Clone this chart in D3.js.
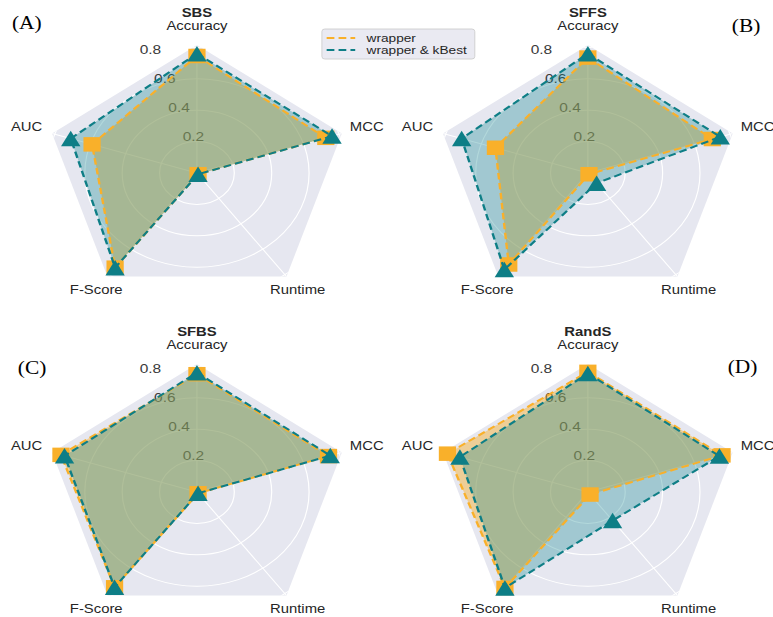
<!DOCTYPE html>
<html>
<head>
<meta charset="utf-8">
<script src="https://cdn.jsdelivr.net/npm/d3@7"></script>
<style>
  html, body { margin: 0; padding: 0; background: #ffffff; }
  svg { display: block; }
</style>
</head>
<body>
<svg id="chart" width="773" height="617"></svg>
<script>
// ---------------- DATA ----------------
const metrics = ["Accuracy", "MCC", "Runtime", "F-Score", "AUC"];
const panelTitles = ["SBS", "SFFS", "SFBS", "RandS"];
const panelTags = ["(A)", "(B)", "(C)", "(D)"];
const seriesNames = ["wrapper", "wrapper & kBest"];
const radialTicks = [0.2, 0.4, 0.6, 0.8];
const radialTickLabels = ["0.2", "0.4", "0.6", "0.8"];

// values in metric order: Accuracy, MCC, Runtime, F-Score, AUC
const wrapperSBS   = [0.745, 0.725, 0.01, 0.745, 0.59];
const kbestSBS     = [0.760, 0.760, 0.01, 0.745, 0.71];
const wrapperSFFS  = [0.735, 0.700, 0.01, 0.720, 0.52];
const kbestSFFS    = [0.760, 0.745, 0.08, 0.760, 0.71];
const wrapperSFBS  = [0.750, 0.740, 0.01, 0.750, 0.765];
const kbestSFBS    = [0.760, 0.750, 0.01, 0.750, 0.745];
const wrapperRandS = [0.765, 0.755, 0.02, 0.755, 0.790];
const kbestRandS   = [0.755, 0.740, 0.225, 0.755, 0.720];

const rMax = 0.815;

// ---------------- LAYOUT ----------------
const sx = 1.19;            // horizontal stretch of the whole figure
const R = 128;              // frame radius (local units)
const centers = [[165.5, 173], [494, 173], [165.5, 492], [494, 492]];
const tagPos = [[22.5, 23], [627, 26], [27, 368], [624, 367]];
const labelDist = [147, 150, 144, 144, 150.5];

const colors = ["#f9b02a", "#0e7e86"];
const fillColors = ["#f9b02a", "#0e878e"];
const fillAlpha = [0.45, 0.32];

const data = [
  [wrapperSBS, kbestSBS],
  [wrapperSFFS, kbestSFFS],
  [wrapperSFBS, kbestSFBS],
  [wrapperRandS, kbestRandS]
];

// marker shapes like matplotlib 's' and '^'
const squareSym = { draw(ctx, size) { const h = Math.sqrt(size) / 2;
  ctx.moveTo(-h, -h); ctx.lineTo(h, -h); ctx.lineTo(h, h); ctx.lineTo(-h, h); ctx.closePath(); } };
const triSym = { draw(ctx, size) { const h = Math.sqrt(size) / 2;
  ctx.moveTo(0, -h); ctx.lineTo(h * 1.05, h); ctx.lineTo(-h * 1.05, h); ctx.closePath(); } };

const svg = d3.select("#chart");
const root = svg.append("g").attr("transform", `scale(${sx},1)`);

const rScale = d3.scaleLinear().domain([0, rMax]).range([0, R]);
const angle = d3.scaleLinear().domain([0, metrics.length]).range([0, 2 * Math.PI]);
const px = (i, r) => r * Math.sin(angle(i));
const py = (i, r) => -r * Math.cos(angle(i));

const fontSans = "'Liberation Sans', Arial, 'DejaVu Sans', sans-serif";

data.forEach((pair, p) => {
  const [cx, cy] = centers[p];
  const g = root.append("g").attr("transform", `translate(${cx},${cy})`);

  // frame background (pentagon)
  const framePts = metrics.map((m, i) => [px(i, R), py(i, R)]);
  const clipId = "clip" + p;
  g.append("clipPath").attr("id", clipId)
    .append("polygon").attr("points", framePts.map(d => d.join(",")).join(" "));
  g.append("polygon")
    .attr("points", framePts.map(d => d.join(",")).join(" "))
    .attr("fill", "#e6e7f0");

  // grid rings
  const grid = g.append("g").attr("clip-path", `url(#${clipId})`);
  radialTicks.forEach(t => {
    grid.append("circle").attr("r", rScale(t))
      .attr("fill", "none").attr("stroke", "#ffffff").attr("stroke-width", 1);
  });
  // spokes
  metrics.forEach((m, i) => {
    grid.append("line")
      .attr("x1", 0).attr("y1", 0)
      .attr("x2", px(i, R)).attr("y2", py(i, R))
      .attr("stroke", "#ffffff").attr("stroke-width", 1);
  });

  // radial tick labels
  const la = 22.5 * Math.PI / 180;
  radialTicks.forEach((t, k) => {
    const r = rScale(t);
    g.append("text")
      .attr("x", -r * Math.sin(la))
      .attr("y", -r * Math.cos(la) - 3)
      .attr("text-anchor", "start")
      .attr("font-family", fontSans)
      .attr("font-size", 13)
      .attr("fill", "#3a3a3a")
      .text(radialTickLabels[k]);
  });

  // series
  const line = d3.line().curve(d3.curveLinearClosed);
  pair.forEach((vals, s) => {
    const pts = vals.map((v, i) => [px(i, rScale(v)), py(i, rScale(v))]);
    g.append("path")
      .attr("d", line(pts))
      .attr("fill", fillColors[s]).attr("fill-opacity", fillAlpha[s])
      .attr("stroke", "none");
  });
  pair.forEach((vals, s) => {
    const pts = vals.map((v, i) => [px(i, rScale(v)), py(i, rScale(v))]);
    g.append("path")
      .attr("d", line(pts))
      .attr("fill", "none")
      .attr("stroke", colors[s]).attr("stroke-width", 2)
      .attr("stroke-dasharray", "6.5,3.5");
    const sym = s === 0 ? squareSym : triSym;
    const size = s === 0 ? 210 : 240;
    g.selectAll(null).data(pts).enter().append("path")
      .attr("d", d3.symbol().type(sym).size(size)())
      .attr("transform", d => `translate(${d[0]},${d[1]})`)
      .attr("fill", colors[s]);
  });

  // axis labels
  metrics.forEach((m, i) => {
    g.append("text")
      .attr("x", px(i, labelDist[i])).attr("y", py(i, labelDist[i]))
      .attr("text-anchor", "middle")
      .attr("dominant-baseline", "central")
      .attr("font-family", fontSans)
      .attr("font-size", 12.5)
      .attr("fill", "#262626")
      .text(m);
  });

  // title
  g.append("text")
    .attr("x", 0).attr("y", -labelDist[0] - 13)
    .attr("text-anchor", "middle")
    .attr("dominant-baseline", "central")
    .attr("font-family", fontSans)
    .attr("font-size", 12.5)
    .attr("font-weight", "bold")
    .attr("fill", "#262626")
    .text(panelTitles[p]);

  // panel tag
  root.append("text")
    .attr("x", tagPos[p][0]).attr("y", tagPos[p][1])
    .attr("text-anchor", "middle")
    .attr("dominant-baseline", "central")
    .attr("font-family", "'Liberation Serif', 'Times New Roman', serif")
    .attr("font-size", 18)
    .attr("fill", "#000")
    .text(panelTags[p]);
});

// legend
const lg = root.append("g").attr("transform", "translate(270.5,29)");
lg.append("rect").attr("width", 128.5).attr("height", 30).attr("rx", 2.5)
  .attr("fill", "#eaeaf2").attr("stroke", "#cccccc").attr("stroke-width", 0.8);
seriesNames.forEach((n, s) => {
  const y = 9 + s * 12;
  lg.append("line").attr("x1", 4).attr("x2", 28).attr("y1", y).attr("y2", y)
    .attr("stroke", colors[s]).attr("stroke-width", 2).attr("stroke-dasharray", "6.5,3.5");
  lg.append("text").attr("x", 37.5).attr("y", y)
    .attr("dominant-baseline", "central")
    .attr("font-family", fontSans).attr("font-size", 11.5)
    .attr("fill", "#262626").text(n);
});
</script>
</body>
</html>
